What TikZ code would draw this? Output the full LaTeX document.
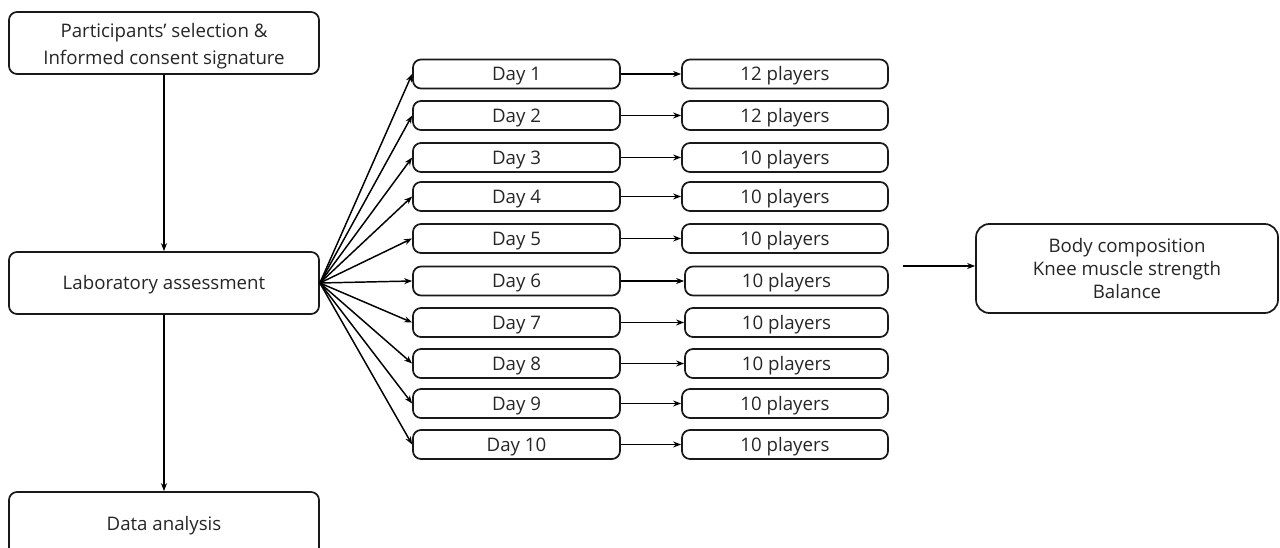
\documentclass[tikz,border=0pt]{standalone}
\usepackage{fontspec}
\setmainfont{Open Sans}
\usetikzlibrary{arrows.meta}
\begin{document}
\begin{tikzpicture}[x=0.75pt,y=-0.75pt,
  box/.style={draw=black!90, line width=1.3pt, rounded corners=6pt, inner sep=0pt, align=center, font=\fontsize{14}{17.6}\selectfont, text=black!85},
  one/.style={text height=10pt, text depth=0pt},
  bigl/.style={box, minimum width=232.5pt, minimum height=46.5pt},
  daybox/.style={box, one, minimum width=155.25pt, minimum height=21.75pt},
  plbox/.style={box, one, minimum width=154.5pt, minimum height=21.75pt},
  plboxb/.style={box, one, minimum width=152.25pt, minimum height=21.75pt},
  arr/.style={draw=black, line width=1.1pt, -{Stealth[length=6pt,width=4.5pt]}}]
\useasboundingbox (0,0) rectangle (1280,548);
\fill[white] (0,0) rectangle (1280,548);
\node[bigl] (A) at (164,43) {};
\node[align=center, inner sep=0pt, font=\fontsize{14}{20.2}\selectfont, text=black!85] (At) at (164,46) {Participants’ selection \&\\Informed consent signature};
\node[bigl, one] (B) at (164,283) {Laboratory assessment};
\node[box, one, minimum width=232.5pt, minimum height=48pt] (C) at (164,524) {Data analysis};
\draw[arr] (A) -- (B);
\draw[arr] (B) -- (C);
\node[daybox] (d1) at (516.5,74) {Day 1};
\node[daybox] (d2) at (516.5,115.5) {Day 2};
\node[daybox] (d3) at (516.5,157.5) {Day 3};
\node[daybox] (d4) at (516.5,196.5) {Day 4};
\node[daybox] (d5) at (516.5,238.5) {Day 5};
\node[daybox] (d6) at (516.5,281) {Day 6};
\node[daybox] (d7) at (516.5,322.5) {Day 7};
\node[daybox] (d8) at (516.5,363.5) {Day 8};
\node[daybox] (d9) at (516.5,403.5) {Day 9};
\node[daybox] (d10) at (516.5,444.5) {Day 10};
\node[plbox] (p1) at (785,74) {12 players};
\node[plbox] (p2) at (785,115.5) {12 players};
\node[plbox] (p3) at (785,157.5) {10 players};
\node[plbox] (p4) at (785,196.5) {10 players};
\node[plbox] (p5) at (785,238.5) {10 players};
\node[plboxb] (p6) at (786.5,281) {10 players};
\node[plboxb] (p7) at (786.5,322.5) {10 players};
\node[plboxb] (p8) at (786.5,363.5) {10 players};
\node[plbox] (p9) at (785,403.5) {10 players};
\node[plbox] (p10) at (785,444.5) {10 players};
\foreach \i in {1,...,10}{
  \draw[arr] (B.east) -- (d\i.west);
  \draw[arr] (d\i.east) -- (p\i.west);
}
\node[box, rounded corners=10pt, minimum width=226.5pt, minimum height=66.75pt] (R) at (1127,268.5) {Body composition\\Knee muscle strength\\Balance};
\coordinate (s) at (903,266);
\draw[arr] (s) -- (R.west |- s);
\end{tikzpicture}
\end{document}
